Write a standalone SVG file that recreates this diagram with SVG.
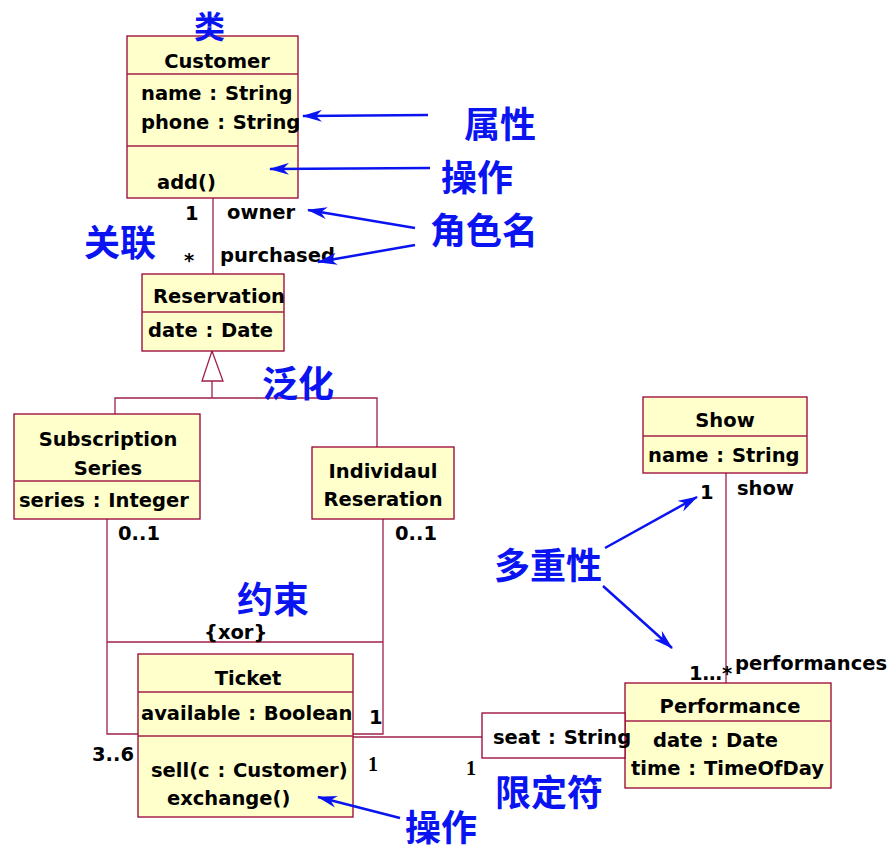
<svg xmlns="http://www.w3.org/2000/svg" width="892" height="851" viewBox="0 0 892 851">
<defs>
<style>
.box{fill:#FFFFCC;stroke:#990033;stroke-width:1.3}
.ln{stroke:#A0204A;stroke-width:1.3;fill:none}
.t{font-family:"DejaVu Sans",sans-serif;font-size:19.5px;font-weight:bold;fill:#000;word-spacing:1px}
.c{text-anchor:middle}
.s{font-family:"Liberation Serif",serif;font-size:20px;font-weight:bold;fill:#000}
.b{font-family:"Noto Sans CJK SC",sans-serif;font-size:36px;font-weight:bold;fill:#0A14F0}
.ar{stroke:#0A14F0;stroke-width:2.5;fill:none;marker-end:url(#ah)}
</style>
<marker id="ah" viewBox="0 0 20 12" refX="19" refY="6" markerWidth="8" markerHeight="5" orient="auto" markerUnits="strokeWidth">
<path d="M0,0 L20,6 L0,12 L6,6 z" fill="#0A14F0"/>
</marker>
</defs>
<rect width="892" height="851" fill="#fff"/>
<g id="connectors">
<line class="ln" x1="213" y1="198" x2="213" y2="274"/>
<polygon points="212,351 202,381 223,381" fill="#fff" stroke="#A0204A" stroke-width="1.3"/>
<polyline class="ln" points="212,381 212,398"/>
<polyline class="ln" points="115,414 115,398 377,398 377,447"/>
<polyline class="ln" points="107,519 107,734 138,734"/>
<polyline class="ln" points="383,519 383,734 353,734"/>
<line class="ln" x1="107" y1="642" x2="383" y2="642"/>
<line class="ln" x1="353" y1="737" x2="482" y2="737"/>
<line class="ln" x1="726" y1="473" x2="726" y2="683"/>
</g>
<g id="customer">
<rect class="box" x="127" y="36" width="171" height="162"/>
<line class="ln" x1="127" y1="74" x2="298" y2="74"/>
<line class="ln" x1="127" y1="146" x2="298" y2="146"/>
<text class="t c" x="217" y="68">Customer</text>
<text class="t" x="141" y="100">name : String</text>
<text class="t" x="141" y="129">phone : String</text>
<text class="t" x="157" y="189">add()</text>
</g>
<g id="reservation">
<rect class="box" x="142" y="274" width="142" height="77"/>
<line class="ln" x1="142" y1="312" x2="284" y2="312"/>
<text class="t c" x="219" y="303">Reservation</text>
<text class="t" x="148" y="337">date : Date</text>
</g>
<g id="subscription">
<rect class="box" x="14" y="414" width="186" height="105"/>
<line class="ln" x1="14" y1="481" x2="200" y2="481"/>
<text class="t c" x="108" y="446">Subscription</text>
<text class="t c" x="108" y="475">Series</text>
<text class="t" x="19" y="507">series : Integer</text>
</g>
<g id="individual">
<rect class="box" x="312" y="447" width="142" height="72"/>
<text class="t c" x="383" y="478">Individaul</text>
<text class="t c" x="383" y="506">Reseration</text>
</g>
<g id="ticket">
<rect class="box" x="138" y="654" width="215" height="163"/>
<line class="ln" x1="138" y1="692" x2="353" y2="692"/>
<line class="ln" x1="138" y1="736" x2="353" y2="736"/>
<text class="t c" x="248" y="685">Ticket</text>
<text class="t" x="141" y="720">available : Boolean</text>
<text class="t" x="151" y="777">sell(c : Customer)</text>
<text class="t" x="167" y="805">exchange()</text>
</g>
<g id="show">
<rect class="box" x="643" y="397" width="164" height="76"/>
<line class="ln" x1="643" y1="436" x2="807" y2="436"/>
<text class="t c" x="725" y="427">Show</text>
<text class="t" x="648" y="462">name : String</text>
</g>
<g id="performance">
<rect class="box" x="625" y="683" width="206" height="105"/>
<line class="ln" x1="625" y1="721" x2="831" y2="721"/>
<text class="t c" x="730" y="713">Performance</text>
<text class="t" x="653" y="747">date : Date</text>
<text class="t" x="631" y="775">time : TimeOfDay</text>
</g>
<g id="qualifier">
<rect x="482" y="713" width="143" height="45" fill="#fff" stroke="#990033" stroke-width="1.3"/>
<text class="t" x="493" y="744">seat : String</text>
</g>
<g id="labels">
<text class="t" x="185" y="220">1</text>
<text class="t" x="227" y="219">owner</text>
<text class="t" x="184" y="267">*</text>
<text class="t" x="220" y="262">purchased</text>
<text class="t" x="118" y="540">0..1</text>
<text class="t" x="395" y="540">0..1</text>
<text class="t" x="204" y="639">{xor}</text>
<text class="t" x="369" y="724">1</text>
<text class="t" x="92" y="761">3..6</text>
<text class="s" x="368" y="771">1</text>
<text class="s" x="466" y="775">1</text>
<text class="t" x="700" y="499">1</text>
<text class="t" x="737" y="495">show</text>
<text class="t" x="689" y="680">1…*</text>
<text class="t" x="735" y="670">performances</text>
</g>
<g id="annotations">
<text class="b" x="194" y="38" style="font-size:31px">类</text>
<text class="b" x="464" y="138">属性</text>
<text class="b" x="441" y="191">操作</text>
<text class="b" x="430" y="244">角色名</text>
<text class="b" x="84" y="256">关联</text>
<text class="b" x="262" y="397">泛化</text>
<text class="b" x="237" y="613">约束</text>
<text class="b" x="494" y="579">多重性</text>
<text class="b" x="495" y="806">限定符</text>
<text class="b" x="405" y="841">操作</text>
<line class="ar" x1="428" y1="115" x2="303" y2="116"/>
<line class="ar" x1="430" y1="168" x2="270" y2="169"/>
<line class="ar" x1="415" y1="228" x2="308" y2="210"/>
<line class="ar" x1="415" y1="245" x2="318" y2="262"/>
<line class="ar" x1="605" y1="548" x2="697" y2="497"/>
<line class="ar" x1="603" y1="586" x2="672" y2="648"/>
<line class="ar" x1="400" y1="818" x2="318" y2="797"/>
</g>
</svg>
